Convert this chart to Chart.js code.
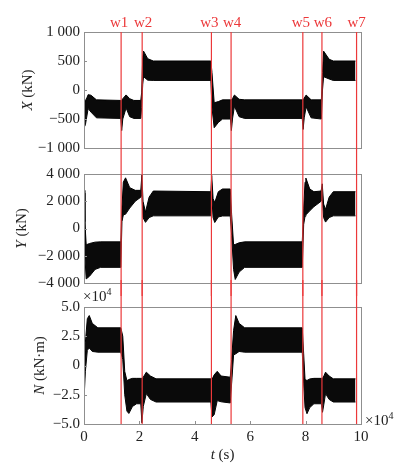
<!DOCTYPE html>
<html>
<head>
<meta charset="utf-8">
<script src="https://cdn.jsdelivr.net/npm/chart.js@4.4.1/dist/chart.umd.min.js"></script>
<style>
body { margin: 0; background: #fff; }
#wrap { position: relative; width: 405px; height: 466px; }
canvas { position: absolute; left: 0; }
</style>
</head>
<body>
<div id="wrap">
<canvas id="c1" width="405" height="161" style="top:0px"></canvas>
<canvas id="c2" width="405" height="135" style="top:161px"></canvas>
<canvas id="c3" width="405" height="186" style="top:280px"></canvas>
</div>
<script>
// switching times (x10^4 s)
const wTimes = [1.34, 2.10, 4.60, 5.31, 7.90, 8.59, 9.84];
const wLabels = ["w1", "w2", "w3", "w4", "w5", "w6", "w7"];

// x axis
const tTickVals = [0, 2, 4, 6, 8, 10];
const tTickLabels = ["0", "2", "4", "6", "8", "10"];

// X (kN) envelope of the oscillation
const tX = [0.00, 0.05, 0.15, 0.25, 0.45, 1.33, 1.36, 1.40, 1.52, 1.65, 1.80, 2.05, 2.08, 2.12, 2.15, 2.30, 2.50,
            4.58, 4.62, 4.70, 4.85, 5.00, 5.29, 5.32, 5.36, 5.43, 5.60, 5.80, 7.88, 7.91, 7.95, 8.02, 8.20,
            8.57, 8.61, 8.65, 8.85, 9.00, 9.80];
const xUpper = [-110, -200, -80, -90, -170, -180, -180, -150, -85, -150, -180, -180, -50, 560, 670, 540, 500,
                500, 300, -220, -200, -170, -170, -170, -150, -87, -160, -170, -170, -170, -140, -87, -170,
                -170, 300, 670, 530, 500, 500];
const xLower = [-650, -600, -320, -380, -480, -490, -700, -500, -310, -460, -490, -490, -300, 100, 230, 170, 165,
                165, -300, -650, -560, -500, -500, -700, -500, -280, -460, -490, -490, -680, -480, -290, -480,
                -500, 0, 230, 190, 165, 165];
const xTickVals = [-1000, -500, 0, 500, 1000];
const xTickLabels = ["\u22121 000", "\u2212500", "0", "500", "1 000"];

// Y (kN) envelope
const tY = [0.00, 0.03, 0.08, 0.20, 0.40, 0.60, 1.33, 1.37, 1.42, 1.50, 1.65, 1.85, 2.05, 2.09, 2.13, 2.22, 2.35, 2.50,
            4.58, 4.61, 4.66, 4.72, 4.85, 5.00, 5.28, 5.33, 5.40, 5.46, 5.60, 5.80, 7.88, 7.93, 7.98, 8.01, 8.15,
            8.30, 8.56, 8.60, 8.65, 8.72, 8.85, 9.00, 9.80];
const yUpper = [2800, 500, -1200, -1100, -1000, -980, -980, 1500, 3400, 3720, 3000, 2800, 2800, 3950, 2000, 1200, 2300, 2750,
                2700, 3900, 2200, 1900, 2700, 2900, 2900, 1000, -1200, -1170, -1050, -980, -980, 1500, 3400, 3700, 2900,
                2700, 2750, 3280, 1800, 1400, 2300, 2700, 2700];
const yLower = [2600, -2000, -3700, -3500, -3000, -2850, -2850, 500, 1000, 1050, 1500, 2000, 2300, 2500, 800, 450, 800, 930,
                930, 2500, 800, 440, 850, 920, 920, -500, -3000, -3740, -3200, -2850, -2850, 300, 900, 1000, 1300,
                1600, 2000, 2300, 800, 470, 800, 930, 930];
const yTickVals = [-4000, -2000, 0, 2000, 4000];
const yTickLabels = ["\u22124 000", "\u22122 000", "0", "2 000", "4 000"];

// N (x10^4 kN·m) envelope
const tN = [0.00, 0.05, 0.12, 0.19, 0.30, 0.50, 1.33, 1.40, 1.47, 1.55, 1.62, 1.75, 1.90, 2.05, 2.09, 2.14, 2.25, 2.40, 2.60,
            4.58, 4.62, 4.70, 4.81, 4.95, 5.28, 5.33, 5.40, 5.48, 5.60, 5.80, 7.88, 7.93, 7.98, 8.05, 8.15, 8.30,
            8.57, 8.61, 8.66, 8.72, 8.85, 9.00, 9.80];
const nUpper = [-1.1, 2.0, 4.0, 4.27, 3.6, 3.22, 3.22, 2.5, -0.5, -1.3, -1.2, -1.1, -1.1, -1.1, -1.1, -1.0, -0.57, -0.9, -1.14,
                -1.14, -1.2, -0.8, -0.5, -0.9, -1.0, 0.5, 3.0, 4.27, 3.6, 3.22, 3.22, 1.0, -1.2, -1.28, -1.15, -1.1,
                -1.1, -1.1, -0.9, -0.57, -0.9, -1.14, -1.14];
const nLower = [-2.9, -0.5, 1.3, 1.5, 1.2, 1.14, 1.14, 0.5, -2.5, -3.9, -4.1, -3.5, -3.27, -3.27, -4.9, -3.5, -2.4, -2.9, -3.12,
                -3.12, -4.4, -4.2, -3.0, -3.1, -3.2, -1.5, 0.9, 1.0, 1.2, 1.14, 1.14, -1.5, -3.6, -4.12, -3.6, -3.27,
                -3.27, -4.0, -3.3, -2.4, -2.9, -3.12, -3.12];
const nTickVals = [-5, -2.5, 0, 2.5, 5];
const nTickLabels = ["\u22125.0", "\u22122.5", "0", "2.5", "5.0"];

const serif = "'Liberation Serif', serif";
const red = "rgb(236,56,58)";
const textCol = "#222";

function pts(ts, vs) {
    return ts.map((t, i) => ({ x: t, y: vs[i] }));
}

// italic symbol + normal unit, rotated
function drawTitle(ctx, cx, cy, sym, unit) {
    ctx.save();
    ctx.translate(cx, cy);
    ctx.rotate(-Math.PI / 2);
    ctx.fillStyle = textCol;
    ctx.textBaseline = "middle";
    ctx.textAlign = "left";
    ctx.font = "italic 15px " + serif;
    let w1 = ctx.measureText(sym).width;
    ctx.font = "15px " + serif;
    let w2 = ctx.measureText(unit).width;
    let x0 = -(w1 + w2) / 2;
    ctx.font = "italic 15px " + serif;
    ctx.fillText(sym, x0, 0);
    ctx.font = "15px " + serif;
    ctx.fillText(unit, x0 + w1, 0);
    ctx.restore();
}

function drawTimes10(ctx, x, y) {
    ctx.save();
    ctx.fillStyle = textCol;
    ctx.textBaseline = "middle";
    ctx.textAlign = "left";
    ctx.font = "15px " + serif;
    ctx.fillText("\u00d710", x, y);
    let w = ctx.measureText("\u00d710").width;
    ctx.font = "10px " + serif;
    ctx.fillText("4", x + w, y - 5);
    ctx.restore();
}

const decor = {
    id: "decor",
    afterDatasetsDraw(chart, args, opts) {
        const ctx = chart.ctx;
        const area = chart.chartArea;
        const xs = chart.scales.x;
        const ys = chart.scales.y;
        ctx.save();
        // frame
        ctx.strokeStyle = "#8f8f8f";
        ctx.lineWidth = 1;
        ctx.strokeRect(Math.round(area.left) + 0.5, Math.round(area.top) + 0.5,
            Math.round(area.right - area.left), Math.round(area.bottom - area.top));
        // small inward ticks
        ctx.beginPath();
        ys.ticks.forEach(t => {
            let py = Math.round(ys.getPixelForValue(t.value)) + 0.5;
            ctx.moveTo(area.left, py);
            ctx.lineTo(area.left + 3, py);
        });
        if (opts.last) {
            xs.ticks.forEach(t => {
                let px = Math.round(xs.getPixelForValue(t.value)) + 0.5;
                ctx.moveTo(px, area.bottom);
                ctx.lineTo(px, area.bottom - 3);
            });
        }
        ctx.stroke();

        // red switching lines
        let top = opts.first ? area.top : 0;
        let bottom = opts.last ? area.bottom : chart.height;
        ctx.strokeStyle = red;
        ctx.lineWidth = 1.2;
        wTimes.forEach(w => {
            let px = xs.getPixelForValue(w);
            ctx.beginPath();
            ctx.moveTo(px, top);
            ctx.lineTo(px, bottom);
            ctx.stroke();
        });
        if (opts.first) {
            ctx.fillStyle = red;
            ctx.font = "15px " + serif;
            ctx.textAlign = "center";
            ctx.textBaseline = "middle";
            let px = wTimes.map(w => xs.getPixelForValue(w));
            px.forEach((p, i) => {
                // nudge labels of close pairs apart
                let dx = 0;
                if (i < px.length - 1 && px[i + 1] - p < 24) dx -= 2;
                if (i > 0 && p - px[i - 1] < 24) dx += 1;
                ctx.fillText(wLabels[i], p + dx, area.top - 9);
            });
        }
        ctx.restore();

        drawTitle(ctx, area.left - opts.titleGap, (area.top + area.bottom) / 2, opts.sym, opts.unit);

        if (opts.last) {
            drawTimes10(ctx, area.left - 1, area.top - 10);
            drawTimes10(ctx, area.right + 4, area.bottom - 3);
            // x axis title
            ctx.save();
            ctx.fillStyle = textCol;
            ctx.textBaseline = "middle";
            ctx.textAlign = "left";
            ctx.font = "italic 15px " + serif;
            let a = ctx.measureText("t").width;
            ctx.font = "15px " + serif;
            let b = ctx.measureText(" (s)").width;
            let x0 = (area.left + area.right) / 2 - (a + b) / 2;
            ctx.font = "italic 15px " + serif;
            ctx.fillText("t", x0, area.bottom + 31);
            ctx.font = "15px " + serif;
            ctx.fillText(" (s)", x0 + a, area.bottom + 31);
            ctx.restore();
        }
    }
};

function makePanel(id, ts, up, lo, tickVals, tickLabels, padTop, padBottom, opts) {
    let ctx = document.getElementById(id).getContext("2d");
    new Chart(ctx, {
        type: "line",
        data: {
            datasets: [{
                data: pts(ts, up),
                borderColor: "#000",
                borderWidth: 1,
                backgroundColor: "#0a0a0a",
                fill: "+1",
                pointRadius: 0,
                tension: 0
            }, {
                data: pts(ts, lo),
                borderColor: "#000",
                borderWidth: 1,
                fill: false,
                pointRadius: 0,
                tension: 0
            }]
        },
        options: {
            responsive: false,
            animation: false,
            layout: { padding: { left: 0, right: 44, top: padTop, bottom: padBottom } },
            plugins: {
                legend: { display: false },
                tooltip: { enabled: false },
                decor: opts
            },
            scales: {
                x: {
                    type: "linear",
                    min: 0,
                    max: 10,
                    grid: { display: false, drawTicks: false },
                    border: { display: false },
                    afterBuildTicks: s => { s.ticks = tTickVals.map(v => ({ value: v })); },
                    ticks: {
                        display: opts.last,
                        autoSkip: false,
                        maxRotation: 0,
                        padding: 4,
                        color: textCol,
                        font: { family: serif, size: 15 },
                        callback: (v) => tTickLabels[tTickVals.indexOf(v)]
                    },
                    afterFit: s => { s.height = opts.last ? 42 : 0; }
                },
                y: {
                    min: tickVals[0],
                    max: tickVals[tickVals.length - 1],
                    grid: { display: false, drawTicks: false },
                    border: { display: false },
                    afterBuildTicks: s => { s.ticks = tickVals.map(v => ({ value: v })); },
                    ticks: {
                        autoSkip: false,
                        padding: 4,
                        color: textCol,
                        font: { family: serif, size: 15 },
                        callback: (v) => tickLabels[tickVals.indexOf(v)]
                    },
                    afterFit: s => { s.width = 84; }
                }
            }
        },
        plugins: [decor]
    });
}

makePanel("c1", tX, xUpper, xLower, xTickVals, xTickLabels, 32, 10,
    { first: true, last: false, sym: "X", unit: " (kN)", titleGap: 56 });
makePanel("c2", tY, yUpper, yLower, yTickVals, yTickLabels, 10, 11,
    { first: false, last: false, sym: "Y", unit: " (kN)", titleGap: 62 });
makePanel("c3", tN, nUpper, nLower, nTickVals, nTickLabels, 27, 0,
    { first: false, last: true, sym: "N", unit: " (kN\u00b7m)", titleGap: 44 });
</script>
</body>
</html>
